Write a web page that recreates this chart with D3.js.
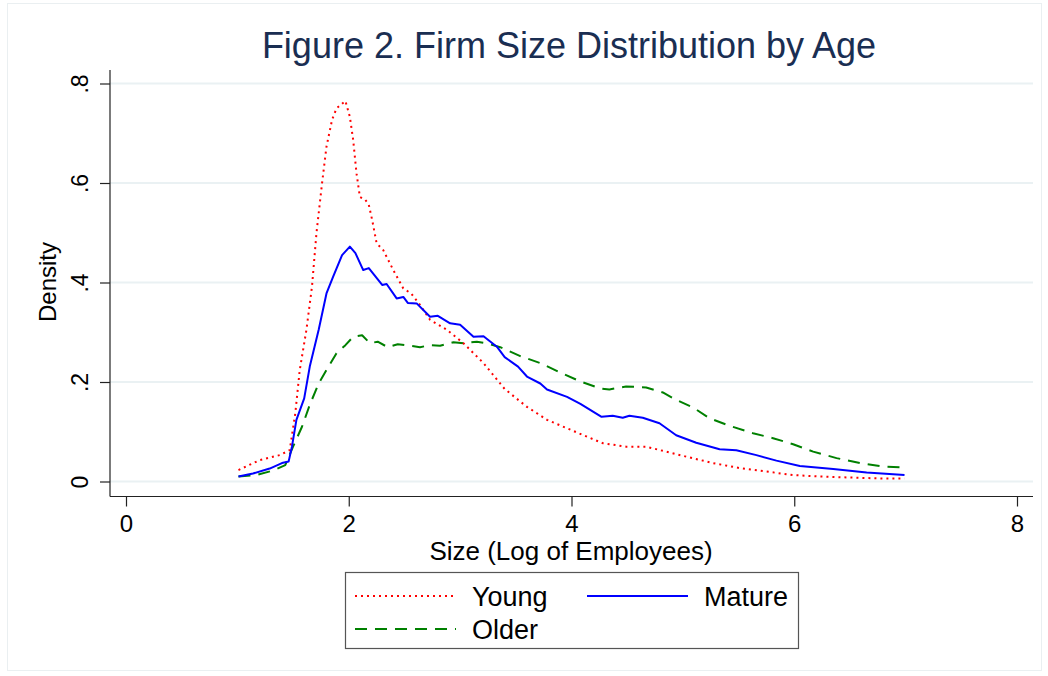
<!DOCTYPE html>
<html>
<head>
<meta charset="utf-8">
<script src="https://cdn.jsdelivr.net/npm/d3@7"></script>
<style>
  html, body { margin: 0; padding: 0; background: #fff; }
  svg { display: block; font-family: "Liberation Sans", Arial, sans-serif; }
</style>
</head>
<body>
<svg id="chart" width="1048" height="676"></svg>
<script>
// ---- data ----
const title = "Figure 2. Firm Size Distribution by Age";
const xLabel = "Size (Log of Employees)";
const yLabel = "Density";
const xTicks = [0, 2, 4, 6, 8];
const yTicks = [0, 0.2, 0.4, 0.6, 0.8];
const yTickLabels = ["0", ".2", ".4", ".6", ".8"];
const seriesNames = ["Young", "Mature", "Older"];

const youngX = [1.01, 1.20, 1.38, 1.47, 1.52, 1.56, 1.62, 1.67, 1.71, 1.76, 1.80, 1.85, 1.89, 1.97, 2.01, 2.04, 2.07, 2.10, 2.15, 2.18, 2.21, 2.25, 2.31, 2.40, 2.49, 2.56, 2.64, 2.73, 2.88, 3.03, 3.21, 3.40, 3.60, 3.78, 3.96, 4.14, 4.28, 4.49, 4.67, 4.85, 5.03, 5.27, 5.51, 5.75, 5.99, 6.23, 6.50, 6.80, 6.99];
const youngY = [0.023, 0.043, 0.053, 0.063, 0.137, 0.224, 0.305, 0.392, 0.499, 0.599, 0.673, 0.727, 0.750, 0.765, 0.733, 0.686, 0.619, 0.572, 0.566, 0.556, 0.526, 0.479, 0.465, 0.425, 0.388, 0.378, 0.355, 0.325, 0.305, 0.278, 0.238, 0.186, 0.150, 0.124, 0.107, 0.090, 0.077, 0.070, 0.070, 0.060, 0.050, 0.037, 0.027, 0.020, 0.013, 0.010, 0.008, 0.006, 0.006];

const matureX = [1.01, 1.14, 1.29, 1.40, 1.46, 1.49, 1.53, 1.60, 1.65, 1.73, 1.80, 1.86, 1.94, 2.01, 2.06, 2.13, 2.18, 2.30, 2.34, 2.43, 2.49, 2.53, 2.61, 2.73, 2.80, 2.91, 3.00, 3.12, 3.21, 3.33, 3.40, 3.52, 3.60, 3.72, 3.78, 3.96, 4.08, 4.27, 4.37, 4.46, 4.52, 4.64, 4.79, 4.94, 5.12, 5.33, 5.48, 5.66, 5.84, 6.05, 6.35, 6.65, 6.99];
const matureY = [0.010, 0.016, 0.026, 0.037, 0.040, 0.070, 0.124, 0.167, 0.231, 0.305, 0.378, 0.412, 0.455, 0.472, 0.459, 0.425, 0.429, 0.395, 0.397, 0.368, 0.371, 0.359, 0.358, 0.331, 0.333, 0.318, 0.315, 0.291, 0.292, 0.271, 0.250, 0.231, 0.211, 0.197, 0.185, 0.170, 0.156, 0.130, 0.132, 0.128, 0.132, 0.128, 0.117, 0.093, 0.078, 0.065, 0.063, 0.053, 0.042, 0.031, 0.025, 0.018, 0.013];

const olderX = [1.01, 1.17, 1.32, 1.43, 1.50, 1.58, 1.65, 1.73, 1.80, 1.89, 1.97, 2.04, 2.12, 2.19, 2.26, 2.35, 2.44, 2.55, 2.64, 2.73, 2.82, 2.94, 3.03, 3.15, 3.24, 3.36, 3.54, 3.72, 3.90, 4.08, 4.26, 4.34, 4.49, 4.67, 4.82, 4.94, 5.09, 5.24, 5.42, 5.63, 5.81, 5.99, 6.17, 6.38, 6.59, 6.80, 6.99];
const olderY = [0.010, 0.013, 0.022, 0.033, 0.070, 0.110, 0.154, 0.197, 0.224, 0.258, 0.274, 0.291, 0.294, 0.278, 0.281, 0.270, 0.276, 0.273, 0.270, 0.274, 0.273, 0.280, 0.278, 0.281, 0.278, 0.270, 0.252, 0.238, 0.219, 0.201, 0.187, 0.185, 0.191, 0.189, 0.179, 0.164, 0.149, 0.127, 0.112, 0.097, 0.087, 0.075, 0.060, 0.047, 0.037, 0.030, 0.028];

// ---- layout ----
const svg = d3.select("#chart");
const plotLeft = 110, plotRight = 1033, plotTop = 70, plotBottom = 496.5;

const x = d3.scaleLinear().domain([0, 8]).range([126, 1017]);
const y = d3.scaleLinear().domain([0, 0.8]).range([481.5, 83.5]);

// faint outer frame
svg.append("rect").attr("x", 7.5).attr("y", 3.5).attr("width", 1034).attr("height", 667)
  .attr("fill", "none").attr("stroke", "#eaeff1").attr("stroke-width", 1);

// gridlines
svg.append("g").selectAll("line").data(yTicks).join("line")
  .attr("x1", plotLeft).attr("x2", plotRight)
  .attr("y1", d => y(d)).attr("y2", d => y(d))
  .attr("stroke", "#eaf1f3").attr("stroke-width", 2);

// title
svg.append("text").attr("x", 569).attr("y", 58).attr("text-anchor", "middle")
  .attr("font-size", 36).attr("fill", "#1a2e52").text(title);

// y axis
const yAxis = d3.axisLeft(y).tickValues(yTicks).tickSize(10).tickPadding(0)
  .tickFormat((d, i) => yTickLabels[i]);
const gy = svg.append("g").attr("transform", `translate(${plotLeft},0)`).call(yAxis);
gy.select(".domain").attr("d", `M0,${plotTop}V${plotBottom}`).attr("stroke", "#222").attr("stroke-width", 1.2);
gy.selectAll(".tick line").attr("stroke", "#222").attr("stroke-width", 1.2);
gy.selectAll(".tick text")
  .attr("font-size", 23).attr("fill", "#000").attr("font-family", "Liberation Sans, Arial, sans-serif")
  .attr("text-anchor", "middle").attr("dy", null)
  .attr("transform", "translate(-30,0) rotate(-90)")
  .attr("x", 0).attr("y", 0).attr("dominant-baseline", "central");

// x axis
const xAxis = d3.axisBottom(x).tickValues(xTicks).tickSize(10).tickPadding(5)
  .tickFormat(d3.format("d"));
const gx = svg.append("g").attr("transform", `translate(0,${plotBottom})`).call(xAxis);
gx.select(".domain").attr("d", `M${plotLeft},0H${plotRight}`).attr("stroke", "#222").attr("stroke-width", 1.2);
gx.selectAll(".tick line").attr("stroke", "#222").attr("stroke-width", 1.2);
gx.selectAll(".tick text").attr("font-size", 24).attr("fill", "#000")
  .attr("font-family", "Liberation Sans, Arial, sans-serif")
  .attr("y", 35).attr("dy", null);

// axis titles
svg.append("text").attr("x", 571).attr("y", 560).attr("text-anchor", "middle")
  .attr("font-size", 26).attr("fill", "#000").text(xLabel);
svg.append("text").attr("transform", "translate(56,282) rotate(-90)")
  .attr("text-anchor", "middle").attr("font-size", 24).attr("fill", "#000").text(yLabel);

// series
const styles = {
  Young:  { color: "#ff0000", dash: "2,4",  width: 2 },
  Mature: { color: "#0000ff", dash: null,   width: 2 },
  Older:  { color: "#008000", dash: "12,8", width: 2 }
};
const series = [
  { name: "Young",  xs: youngX,  ys: youngY },
  { name: "Mature", xs: matureX, ys: matureY },
  { name: "Older",  xs: olderX,  ys: olderY }
];
const line = d3.line().x(d => x(d[0])).y(d => y(d[1])).curve(d3.curveLinear);
const drawOrder = ["Older", "Young", "Mature"];
drawOrder.forEach(n => {
  const s = series.find(t => t.name === n);
  const pts = s.xs.map((v, i) => [v, s.ys[i]]);
  svg.append("path").datum(pts).attr("d", line)
    .attr("fill", "none").attr("stroke", styles[n].color)
    .attr("stroke-width", styles[n].width)
    .attr("stroke-dasharray", styles[n].dash)
    .attr("stroke-linejoin", "round");
});

// legend
const lg = svg.append("g");
lg.append("rect").attr("x", 345.5).attr("y", 572.5).attr("width", 453).attr("height", 76)
  .attr("fill", "#fff").attr("stroke", "#555").attr("stroke-width", 1.2);
const legendPos = [
  { name: seriesNames[0], x: 355, y: 596 },
  { name: seriesNames[1], x: 587, y: 596 },
  { name: seriesNames[2], x: 355, y: 629 }
];
legendPos.forEach(p => {
  lg.append("line").attr("x1", p.x).attr("x2", p.x + 101).attr("y1", p.y).attr("y2", p.y)
    .attr("stroke", styles[p.name].color).attr("stroke-width", 2)
    .attr("stroke-dasharray", styles[p.name].dash);
  lg.append("text").attr("x", p.x + 117).attr("y", p.y).attr("dy", "0.36em")
    .attr("font-size", 27).attr("fill", "#000").text(p.name);
});
</script>
</body>
</html>
